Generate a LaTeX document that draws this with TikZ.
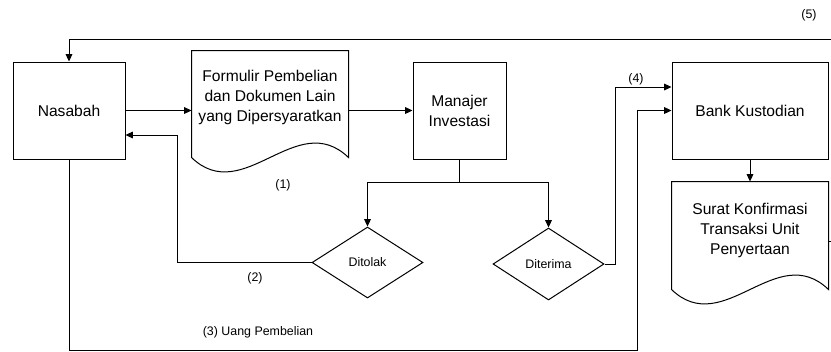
\documentclass[tikz,border=0pt]{standalone}
\usepackage{fontspec}
\setmainfont{Liberation Sans}
\usetikzlibrary{arrows.meta,shapes.geometric,calc}
\begin{document}
\begin{tikzpicture}[x=0.75pt,y=-0.75pt,
  line width=0.75pt,
  big/.style={font=\fontsize{11.7}{15}\selectfont,align=center},
  small/.style={font=\fontsize{9.3}{11}\selectfont},
  box/.style={draw,rectangle,inner sep=0pt,big},
  docshape/.style={rectangle,inner sep=0pt},
  dia/.style={draw,diamond,inner sep=0pt,small,minimum width=83.25pt,minimum height=53.25pt},
  arr/.style={-{Triangle[length=5.5pt,width=5pt]}}]
\useasboundingbox (0,0) rectangle (831,351);

% main nodes
\node[box,minimum width=84pt,minimum height=72.75pt] (nas) at (69,110.5) {Nasabah};
\node[docshape,minimum width=117pt,minimum height=79.5pt] (form) at (270,104) {};
\node[big] (formtxt) at (270,97) {Formulir Pembelian\\dan Dokumen Lain\\yang Dipersyaratkan};
\node[box,minimum width=69.75pt,minimum height=72.75pt] (man) at (459.5,110.5) {Manajer\\Investasi};
\node[box,minimum width=117pt,minimum height=72.75pt] (bank) at (750,110.5) {Bank Kustodian};
\node[docshape,minimum width=117pt,minimum height=80.25pt] (sur) at (750,235.5) {};
\node[big] (surtxt) at (750,230) {Surat Konfirmasi\\Transaksi Unit\\Penyertaan};
\node[dia] (dit) at (367.5,262.5) {Ditolak};
\node[dia,minimum height=54pt] (dtr) at (548.5,264) {Diterima};

% document outlines
\draw (form.south west) -- (form.north west) -- (form.north east) -- (form.south east)
  .. controls +(-52,-50) and +(52,50) .. (form.south west);
\draw (sur.south west) -- (sur.north west) -- (sur.north east) -- (sur.south east)
  .. controls +(-52,-50) and +(52,50) .. (sur.south west);

% labels
\node[small] (l1) at (283,185) {(1)};
\node[small] (l2) at (255,278) {(2)};
\node[small] (l3) at (258,332) {(3) Uang Pembelian};
\node[small] (l4) at (636,79) {(4)};
\node[small] (l5) at (809,15) {(5)};

% free ends at the cropped right edge
\coordinate (c5t) at (831,39);
\coordinate (c5b) at (831,241);
\coordinate (sp) at (459.5,182);

% connectors
\draw[arr] (nas.east) -- (nas.east -| form.west);
\draw[arr] (man.west -| form.east) -- (man.west);
\draw (man.south) -- (sp);
\draw[arr] (sp) -| (dit.north);
\draw[arr] (sp) -| (dtr.north);
\draw[arr] (dit.west) -| ($(nas.east)+(52,24.5)$) -- ($(nas.east)+(0,24.5)$);
\draw[arr] (dtr.east) -| ($(bank.west)+(-56,-23.5)$) -- ($(bank.west)+(0,-23.5)$);
\draw[arr] (nas.south) |- ($(bank.west)+(-34,239.5)$) |- (bank.west);
\draw[arr] (bank.south) -- (sur.north);
\draw (c5b -| sur.east) -- (c5b);
\draw[arr] (c5t) -| (nas.north);
\end{tikzpicture}
\end{document}
